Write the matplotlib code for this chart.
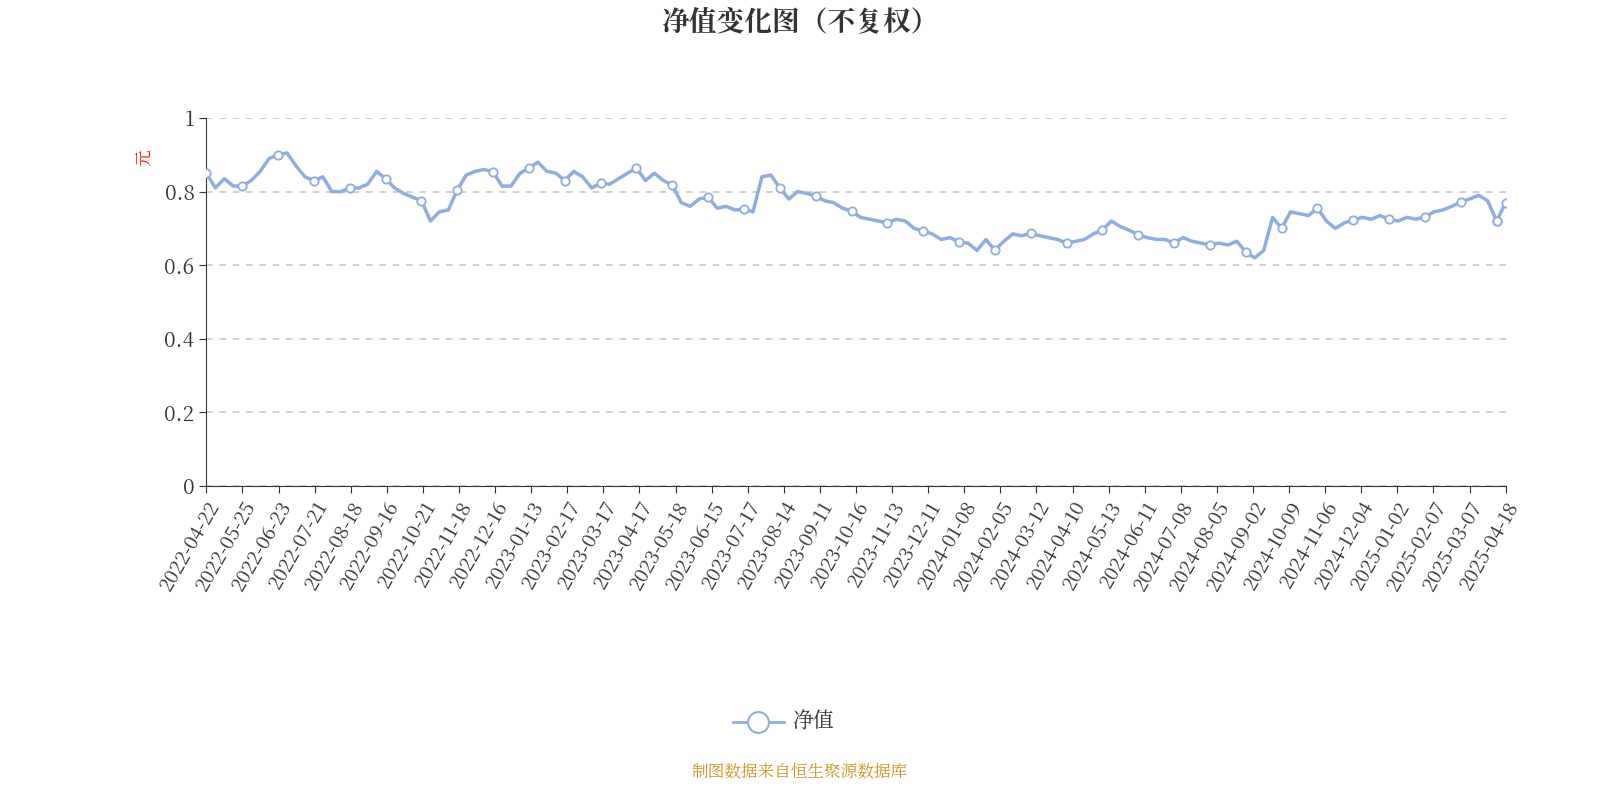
import matplotlib
matplotlib.use("Agg")
import matplotlib.pyplot as plt
from matplotlib import font_manager as fm
import numpy as np

cjk = None
for f in fm.findSystemFonts():
    if "CJK" in f and ("Regular" in f or "SC" in f):
        cjk = f
        break
if cjk is None:
    for f in fm.findSystemFonts():
        if "CJK" in f:
            cjk = f
            break
families = ["DejaVu Sans"]
if cjk:
    fm.fontManager.addfont(cjk)
    families = [fm.FontProperties(fname=cjk).get_name(), "DejaVu Sans"]
plt.rcParams["font.family"] = families

tick_labels = ["2022-04-22","2022-05-25","2022-06-23","2022-07-21","2022-08-18","2022-09-16",
    "2022-10-21","2022-11-18","2022-12-16","2023-01-13","2023-02-17","2023-03-17","2023-04-17",
    "2023-05-18","2023-06-15","2023-07-17","2023-08-14","2023-09-11","2023-10-16","2023-11-13",
    "2023-12-11","2024-01-08","2024-02-05","2024-03-12","2024-04-10","2024-05-13","2024-06-11",
    "2024-07-08","2024-08-05","2024-09-02","2024-10-09","2024-11-06","2024-12-04","2025-01-02",
    "2025-02-07","2025-03-07","2025-04-18"]

nav = [
 0.85,0.81,0.835,0.815, 0.815,0.83,0.855,0.89, 0.90,0.905,0.87,0.84, 0.83,0.84,0.80,0.80,
 0.81,0.81,0.82,0.855, 0.835,0.81,0.795,0.785, 0.775,0.72,0.745,0.75, 0.805,0.845,0.855,0.86,
 0.853,0.815,0.815,0.85, 0.864,0.88,0.855,0.85, 0.83,0.855,0.84,0.81, 0.823,0.82,0.835,0.85,
 0.864,0.83,0.85,0.83, 0.818,0.77,0.76,0.78, 0.785,0.755,0.76,0.75, 0.753,0.745,0.84,0.845,
 0.81,0.78,0.80,0.795, 0.788,0.775,0.77,0.755, 0.747,0.73,0.725,0.72, 0.715,0.725,0.72,0.70,
 0.693,0.685,0.67,0.675, 0.663,0.66,0.64,0.67, 0.641,0.665,0.685,0.68, 0.687,0.68,0.675,0.67,
 0.66,0.665,0.67,0.685, 0.696,0.72,0.705,0.695, 0.682,0.675,0.67,0.67, 0.66,0.675,0.665,0.66,
 0.655,0.66,0.655,0.665, 0.636,0.62,0.64,0.73, 0.70,0.745,0.74,0.735, 0.755,0.72,0.70,0.715,
 0.723,0.73,0.725,0.735, 0.725,0.72,0.73,0.725, 0.731,0.745,0.75,0.76, 0.772,0.78,0.79,0.775,
 0.72,0.77]

x = np.arange(len(nav))
step = 4
mk = list(range(0, len(nav) - 1, step)) + [len(nav) - 2, len(nav) - 1]
tick_pos = np.linspace(0, len(nav) - 1, len(tick_labels))

fig = plt.figure(figsize=(16, 8), dpi=100)
ax = fig.add_axes([0.129, 0.3925, 0.812, 0.46])
color = "#8eade0"
ax.plot(x, nav, color=color, lw=2.5, zorder=3)
ax.plot(x[mk], np.array(nav)[mk], "o", ms=6, mfc="white", mec=color, mew=1.3, zorder=4)
ax.set_xlim(0, len(nav) - 1)
ax.set_ylim(0, 1)
ax.set_yticks([0, 0.2, 0.4, 0.6, 0.8, 1])
ax.set_yticklabels(["0", "0.2", "0.4", "0.6", "0.8", "1"], fontsize=15, color="#333333")
ax.set_xticks(tick_pos)
ax.set_xticklabels(tick_labels, rotation=60, ha="right", rotation_mode="anchor", fontsize=14, color="#333333")
ax.grid(axis="y", ls=(0, (4, 4)), color="#c8c8c8", lw=1.2)
for s in ["top", "right"]:
    ax.spines[s].set_visible(False)
ax.spines["left"].set_color("#333333")
ax.spines["bottom"].set_color("#333333")
ax.tick_params(axis="x", length=5, color="#333333")
ax.tick_params(axis="y", length=5, color="#333333")
ax.set_axisbelow(True)

fig.text(0.5, 0.972, "净值变化图（不复权）", ha="center", va="center", fontsize=20, fontweight="bold", color="#333333")
fig.text(0.091, 0.803, "元", ha="center", va="center", rotation=90, fontsize=12, color="red")
fig.add_artist(plt.Line2D([0.458, 0.49], [0.0975, 0.0975], transform=fig.transFigure, color=color, lw=2))
fig.add_artist(plt.Line2D([0.474], [0.0975], transform=fig.transFigure, marker="o", ms=15, mfc="white", mec=color, mew=1.5))
fig.text(0.495, 0.0975, "净值", ha="left", va="center", fontsize=15, color="#333333")
fig.text(0.5, 0.034, "制图数据来自恒生聚源数据库", ha="center", va="center", fontsize=12, color="#c8961e")
fig.savefig("out.png", dpi=100)
